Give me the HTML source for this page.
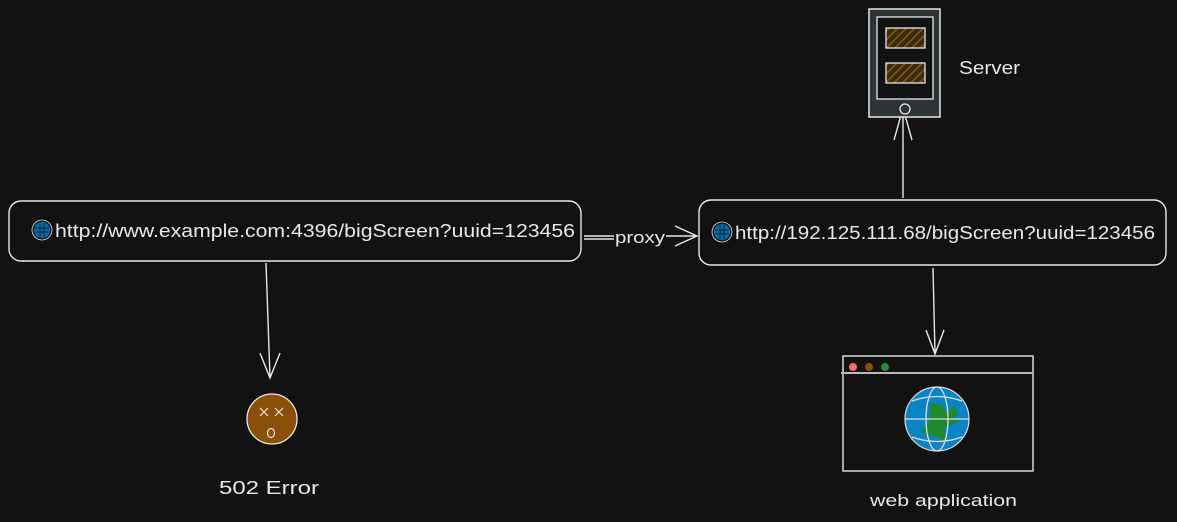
<!DOCTYPE html>
<html><head><meta charset="utf-8"><style>
html,body{margin:0;padding:0;background:#121212;}
svg{display:block}
text{font-family:"Liberation Sans",sans-serif;fill:#e8e8e8;}
</style></head><body>
<svg width="1177" height="522" viewBox="0 0 1177 522" xmlns="http://www.w3.org/2000/svg">
<rect width="1177" height="522" fill="#121212"/>
<defs>
<pattern id="hatch" width="6" height="6" patternUnits="userSpaceOnUse" patternTransform="rotate(45)">
<rect width="6" height="6" fill="#3a2a10"/><line x1="0" y1="0" x2="0" y2="6" stroke="#8a5a10" stroke-width="3"/>
</pattern>
<g id="glob"><circle r="9" fill="#0a6fa8" stroke="#0a2030" stroke-width="2"/><circle r="10" fill="none" stroke="#ddd" stroke-width="0.8"/><path d="M-7 -2H7M-7 2H7M-2 -7V7M2 -7V7" stroke="#0a2030" stroke-width="1"/></g>
</defs>
<g fill="none" stroke="#e8e8e8" stroke-width="1.4">
<rect x="9" y="201" width="572" height="60" rx="12"/>
<rect x="699" y="200" width="467" height="65" rx="12"/>
<path d="M584 236H614M666 236H697M675 226L697 236L675 246"/>
<path d="M584 239H614"/>
<path d="M266 263L270 378M260 353L270 378L280 353"/>
<path d="M903 198V108M894 140L903 108L912 140"/>
<path d="M933 268L935 354M926 330L935 354L944 330"/>
</g>
<rect x="869" y="9" width="71" height="108" fill="#2e3336" stroke="#e8e8e8" stroke-width="1.5"/>
<rect x="877" y="17" width="56" height="82" fill="#121212" stroke="#e8e8e8" stroke-width="1.3"/>
<rect x="886" y="28" width="39" height="20" fill="url(#hatch)" stroke="#e8e8e8" stroke-width="1.3"/>
<rect x="886" y="63" width="39" height="20" fill="url(#hatch)" stroke="#e8e8e8" stroke-width="1.3"/>
<circle cx="905" cy="109" r="5" fill="none" stroke="#e8e8e8" stroke-width="1.3"/>
<text x="959" y="74" font-size="18" textLength="61" lengthAdjust="spacingAndGlyphs">Server</text>
<rect x="843" y="356" width="190" height="115" fill="#121212" stroke="#e8e8e8" stroke-width="1.4"/>
<line x1="841" y1="373" x2="1033" y2="373" stroke="#bbb" stroke-width="2"/>
<circle cx="853" cy="367" r="4" fill="#ff6b6b"/>
<circle cx="869" cy="367" r="4" fill="#8a4f08"/>
<circle cx="885" cy="367" r="4" fill="#2b8a3e"/>
<circle cx="937" cy="419" r="32" fill="#0a84c4" stroke="#ddd" stroke-width="1.2"/>
<path d="M930 403L942 405L946 412L955 406L958 414L952 420L962 420L944 428L946 442L934 436L920 432L929 422Z" fill="#1e8a2e"/>
<g fill="none" stroke="#ddd" stroke-width="1.3"><ellipse cx="937" cy="419" rx="11" ry="32"/><path d="M905 419H969M912 401Q937 392 962 401M912 437Q937 446 962 437"/></g>
<text x="870" y="506" font-size="17" textLength="147" lengthAdjust="spacingAndGlyphs">web application</text>
<circle cx="272" cy="419" r="25" fill="#8a4f08" stroke="#e8e8e8" stroke-width="1.3"/>
<g stroke="#e8e8e8" stroke-width="1.2"><path d="M260 408L268 416M268 408L260 416M275 408L283 416M283 408L275 416"/></g>
<ellipse cx="271" cy="433" rx="3.5" ry="4.5" fill="none" stroke="#e8e8e8" stroke-width="1.2"/>
<text x="219" y="494" font-size="18" textLength="100" lengthAdjust="spacingAndGlyphs">502 Error</text>
<use href="#glob" x="42" y="230"/>
<text x="55" y="237" font-size="18" textLength="520" lengthAdjust="spacingAndGlyphs">http://www.example.com:4396/bigScreen?uuid=123456</text>
<use href="#glob" x="722" y="232"/>
<text x="735" y="239" font-size="18" textLength="420" lengthAdjust="spacingAndGlyphs">http://192.125.111.68/bigScreen?uuid=123456</text>
<text x="615" y="243" font-size="17" textLength="50" lengthAdjust="spacingAndGlyphs">proxy</text>
</svg>
</body></html>
